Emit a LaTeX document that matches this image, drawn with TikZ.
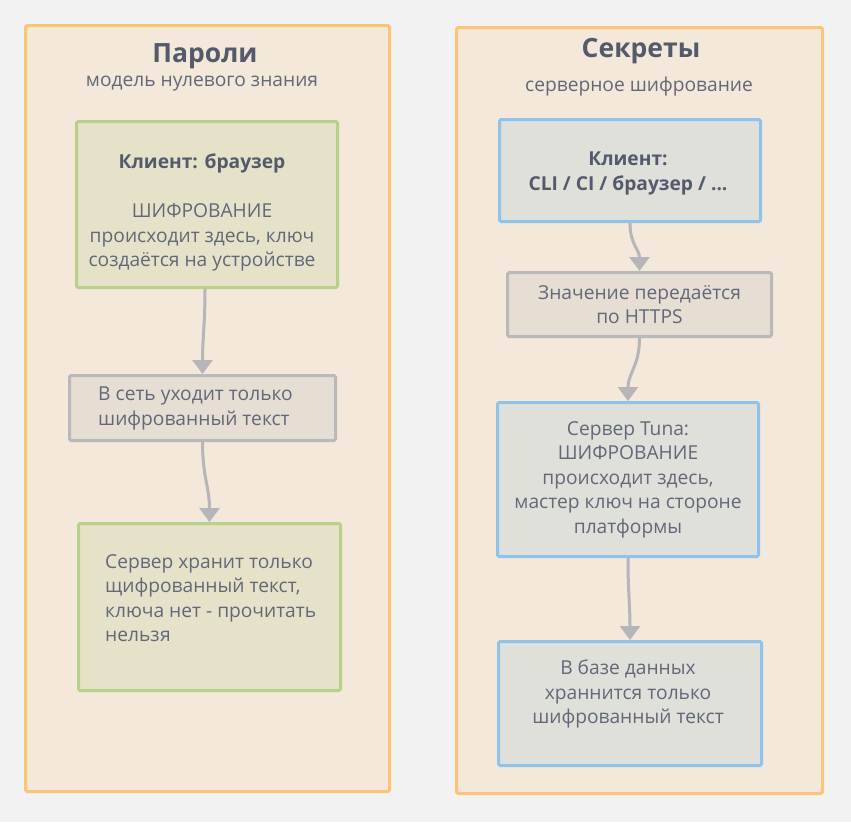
\documentclass[tikz,border=0pt]{standalone}
\usepackage{fontspec}
\setmainfont{Open Sans}
\usepackage{tikz}
\usetikzlibrary{arrows.meta}

\definecolor{pagebg}{HTML}{F2F2F2}
\definecolor{panelfill}{HTML}{F3E8D9}
\definecolor{panelline}{HTML}{FBC575}
\definecolor{greenfill}{HTML}{E6E2C9}
\definecolor{greenline}{HTML}{B8D18A}
\definecolor{grayfill}{HTML}{E6DED2}
\definecolor{grayline}{HTML}{B9B8BA}
\definecolor{bluefill}{HTML}{DFE0DA}
\definecolor{blueline}{HTML}{8EC3EC}
\definecolor{arrowgray}{HTML}{B5B5BA}
\definecolor{ink}{HTML}{626878}
\definecolor{darkink}{HTML}{525A6B}

\newcommand\boxfont{\fontsize{19.2}{24.5}\selectfont}
\newcommand\titlefont{\fontsize{26.5}{30}\selectfont\bfseries}

\begin{document}
\begin{tikzpicture}[x=1pt, y=-1pt,
  panel/.style={draw=panelline, fill=panelfill, line width=3pt, rounded corners=1.5pt, minimum height=766pt},
  box/.style={draw, line width=3pt, rounded corners=1.5pt, inner sep=0pt, text=ink, font=\boxfont, align=center},
  greenbox/.style={box, draw=greenline, fill=greenfill},
  graybox/.style={box, draw=grayline, fill=grayfill},
  bluebox/.style={box, draw=blueline, fill=bluefill},
  boxtext/.style={text=ink, font=\boxfont, inner sep=0pt},
  heading/.style={text=darkink, font=\titlefont, anchor=base, inner sep=0pt},
  subheading/.style={text=ink, font=\boxfont, anchor=base, inner sep=0pt},
  flow/.style={draw=arrowgray, line width=3pt, -{Triangle[width=20pt,length=14pt]}}]
  \fill[pagebg] (0,0) rectangle (851,822);
  \useasboundingbox (0,0) rectangle (851,822);

  \node[panel, minimum width=364pt] (pwd) at (207.5,408.5) {};
  \node[panel, minimum width=366pt] (sec) at (639.5,410.5) {};

  \node[heading] (pwdtitle) at (205,62) {Пароли};
  \node[subheading] (pwdsub) at (202,86) {модель нулевого знания};
  \node[heading] (sectitle) at (641,57) {Секреты};
  \node[subheading] (secsub) at (639,91) {серверное шифрование};

  \node[greenbox, minimum width=261pt, minimum height=166pt] (cli) at (207,204.5) {};
  \node[boxtext, align=center, anchor=north] (clitext) at (202,154)
    {\textbf{\color{darkink}Клиент: браузер}\\[24.5pt]ШИФРОВАНИЕ\\происходит здесь, ключ\\создаётся на устройстве};
  \node[graybox, minimum width=266pt, minimum height=65pt] (net) at (202.5,408) {};
  \node[boxtext, align=left, anchor=north west] (nettext) at (98,387)
    {В сеть уходит только\\шифрованный текст};
  \node[greenbox, minimum width=262pt, minimum height=167pt] (srv) at (209.5,607) {};
  \node[boxtext, align=left, anchor=north west] (srvtext) at (105,554)
    {Сервер хранит только\\щифрованный текст,\\ключа нет - прочитать\\нельзя};

  \node[bluebox, minimum width=261pt, minimum height=102pt] (scli) at (630,170.5) {};
  \node[boxtext, font=\boxfont\bfseries, text=darkink, align=center, anchor=north] (sclitext) at (628,152)
    {Клиент:\\CLI / CI / браузер / ...};
  \node[graybox, minimum width=264pt, minimum height=64pt] (https) at (639.5,304.5)
    {Значение передаётся\\по HTTPS};
  \node[bluebox, minimum width=261pt, minimum height=154pt] (tuna) at (628,479.5)
    {Сервер Tuna:\\ШИФРОВАНИЕ\\происходит здесь,\\мастер ключ на стороне\\платформы};
  \node[bluebox, minimum width=263pt, minimum height=124pt] (db) at (630,703.5) {};
  \node[boxtext, align=center, anchor=north] (dbtext) at (628,660)
    {В базе данных\\храннится только\\шифрованный текст};

  \draw[flow] ([xshift=-2pt]cli.south) .. controls +(0,35) and +(0,-35) .. (net.north);
  \draw[flow] (net.south) .. controls +(0,35) and +(0,-35) .. (srv.north);
  \draw[flow] (scli.south) .. controls +(0,22) and +(0,-22) .. (https.north);
  \draw[flow] (https.south) .. controls +(0,28) and +(0,-28) .. (tuna.north);
  \draw[flow] (tuna.south) .. controls +(0,35) and +(0,-35) .. (db.north);
\end{tikzpicture}
\end{document}
